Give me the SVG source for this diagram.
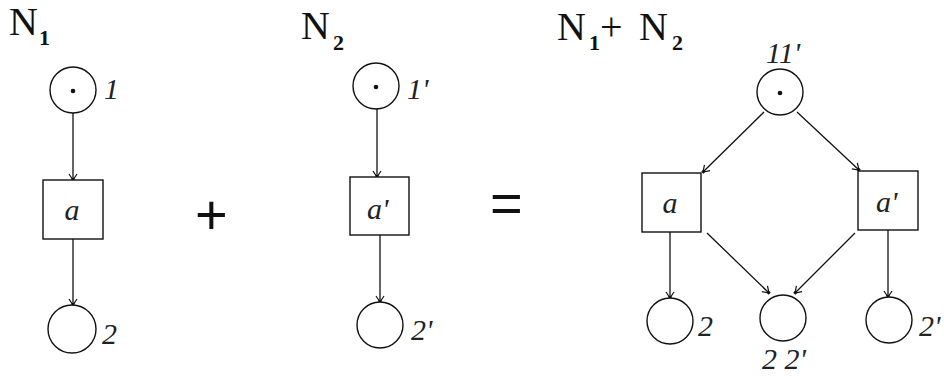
<svg xmlns="http://www.w3.org/2000/svg" width="944" height="379" viewBox="0 0 944 379">
<defs>
<marker id="arr" markerUnits="userSpaceOnUse" markerWidth="14" markerHeight="14" refX="0" refY="0" viewBox="-8 -7 10 14" orient="auto">
<path d="M-6,-4 L0,0 L-6,4" fill="none" stroke="#111" stroke-width="1.2"/>
<rect x="-2" y="-1.5" width="3" height="3" fill="#111"/>
</marker>
</defs>
<style>
.place{fill:#fff;stroke:#111;stroke-width:1.4}
.trans{fill:#fff;stroke:#111;stroke-width:1.4}
.tok{fill:#111}
.arc{stroke:#111;stroke-width:1.3;fill:none;marker-end:url(#arr)}
.lbl{font-style:italic;font-size:30px;fill:#222}
.ttl{font-size:40px;fill:#111}
.sub{font-size:22px;font-weight:bold;fill:#111}
.op{font-size:56px;fill:#111}
</style>
<rect width="944" height="379" fill="#fff"/>
<g id="connectors">
<line class="arc" x1="73" y1="113" x2="73" y2="180"/>
<line class="arc" x1="73" y1="239" x2="73" y2="305"/>
<line class="arc" x1="377" y1="109" x2="377" y2="177"/>
<line class="arc" x1="380" y1="235" x2="380" y2="302"/>
<line class="arc" x1="764" y1="112" x2="703" y2="172"/>
<line class="arc" x1="797" y1="112" x2="859" y2="170"/>
<line class="arc" x1="670" y1="232" x2="670" y2="298"/>
<line class="arc" x1="707" y1="233" x2="769" y2="293"/>
<line class="arc" x1="855" y1="233" x2="795" y2="293"/>
<line class="arc" x1="888" y1="230" x2="888" y2="297"/>
</g>
<g id="titles" font-family="Liberation Serif, DejaVu Serif, serif">
<text class="ttl" x="9" y="35">N</text><text class="sub" x="39" y="45">1</text>
<text class="ttl" x="301" y="39">N</text><text class="sub" x="333" y="50">2</text>
<text class="ttl" x="557" y="40">N</text><text class="sub" x="589" y="50">1</text>
<text class="ttl" x="600" y="40" font-size="44">+</text>
<text class="ttl" x="639" y="40">N</text><text class="sub" x="672" y="50">2</text>
</g>
<g id="operators" font-family="Liberation Sans, Arial, sans-serif">
<text class="op" x="195" y="234">+</text>
<text class="op" x="490" y="222">=</text>
</g>
<g font-family="Liberation Serif, DejaVu Serif, serif">
<g id="p1">
<circle class="place" cx="73" cy="90" r="23"/><circle class="tok" cx="73" cy="91" r="2.3"/>
<text class="lbl" x="104" y="99">1</text>
</g>
<g id="ta">
<rect class="trans" x="43" y="180" width="60" height="59"/>
<text class="lbl" x="72" y="220" text-anchor="middle">a</text>
</g>
<g id="p2">
<circle class="place" cx="72" cy="329" r="24"/>
<text class="lbl" x="102" y="344">2</text>
</g>
<g id="p1p">
<circle class="place" cx="376" cy="86" r="23"/><circle class="tok" cx="376" cy="87" r="2.3"/>
<text class="lbl" x="407" y="99">1'</text>
</g>
<g id="tap">
<rect class="trans" x="350" y="177" width="59" height="58"/>
<text class="lbl" x="367" y="219">a'</text>
</g>
<g id="p2p">
<circle class="place" cx="380" cy="325" r="23"/>
<text class="lbl" x="411" y="340">2'</text>
</g>
<g id="p11p">
<circle class="place" cx="780" cy="92" r="23"/><circle class="tok" cx="780" cy="93" r="2.3"/>
<text class="lbl" x="766" y="63">11'</text>
</g>
<g id="ta2">
<rect class="trans" x="642" y="173" width="59" height="59"/>
<text class="lbl" x="670" y="213" text-anchor="middle">a</text>
</g>
<g id="tap2">
<rect class="trans" x="858" y="171" width="60" height="59"/>
<text class="lbl" x="876" y="212">a'</text>
</g>
<g id="p2r">
<circle class="place" cx="670" cy="321" r="23"/>
<text class="lbl" x="698" y="336">2</text>
</g>
<g id="p22p">
<circle class="place" cx="783" cy="318" r="23"/>
<text class="lbl" x="762" y="369">2 2'</text>
</g>
<g id="p2pr">
<circle class="place" cx="889" cy="320" r="23"/>
<text class="lbl" x="919" y="336">2'</text>
</g>
</g>
</svg>
